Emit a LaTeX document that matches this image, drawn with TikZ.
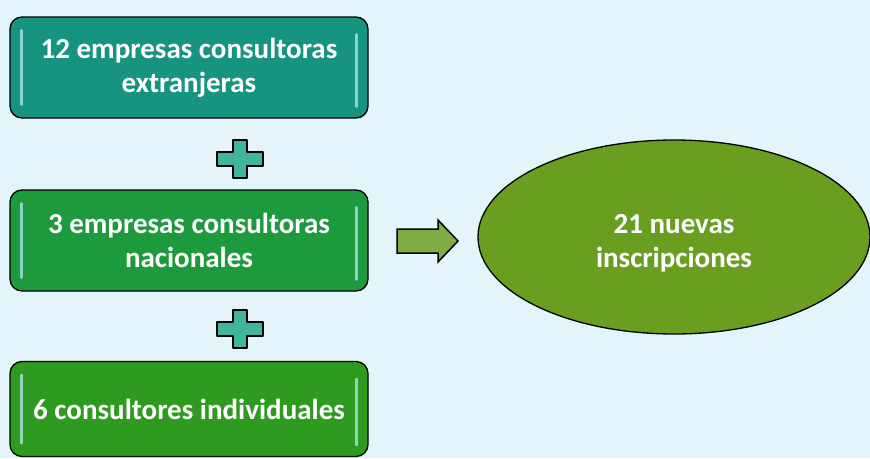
\documentclass[tikz,border=0pt]{standalone}
\usepackage{fontspec}
\setmainfont{Carlito}
\usetikzlibrary{shapes.geometric}
\definecolor{bgc}{HTML}{E3F4FB}
\definecolor{tealbox}{HTML}{179480}
\definecolor{greenbox}{HTML}{1E9A3E}
\definecolor{lgreenbox}{HTML}{2E9A1F}
\definecolor{olivec}{HTML}{6A9E20}
\definecolor{plusc}{HTML}{40B49C}
\tikzset{
  x=1pt, y=-1pt,
  bigtext/.style={text=white, font=\bfseries\fontsize{29}{34}\selectfont, align=center},
  card/.style={draw=black, line width=1.3pt, rounded corners=12pt, minimum width=358pt,
    bigtext, inner sep=0pt},
  glint/.style={white!70!cyan, opacity=0.75, line width=2.5pt, line cap=round},
  plusshape/.style={draw=black, line width=1.5pt, fill=plusc, line join=round},
}
\begin{document}
\begin{tikzpicture}
\fill[bgc] (0,0) rectangle (870,458);
\useasboundingbox (0,0) rectangle (870,458);
% boxes
\node[card, fill=tealbox, minimum height=101pt] (b1) at (189,67.5) {12 empresas consultoras\\extranjeras};
\node[card, fill=greenbox, minimum height=101pt] (b2) at (189,240.5) {3 empresas consultoras\\nacionales};
\node[card, fill=lgreenbox, minimum height=95pt] (b3) at (189,409) {6 consultores individuales};
% glints
\foreach \b in {b1,b2,b3}{
  \draw[glint] ([xshift=12pt,yshift=-14pt]\b.north west) -- ([xshift=12pt,yshift=14pt]\b.south west);
  \draw[glint] ([xshift=-12pt,yshift=-18pt]\b.north east) -- ([xshift=-12pt,yshift=12pt]\b.south east);
}
% plus signs
\coordinate (p1) at (240,159);
\coordinate (p2) at (240,329);
\foreach \p in {p1,p2}{
  \draw[plusshape] ([shift={(-7,-19)}]\p) -- ([shift={(7,-19)}]\p) -- ([shift={(7,-7)}]\p) -- ([shift={(23,-7)}]\p)
    -- ([shift={(23,7)}]\p) -- ([shift={(7,7)}]\p) -- ([shift={(7,19)}]\p) -- ([shift={(-7,19)}]\p)
    -- ([shift={(-7,7)}]\p) -- ([shift={(-23,7)}]\p) -- ([shift={(-23,-7)}]\p) -- ([shift={(-7,-7)}]\p) -- cycle;
}
% ellipse
\node[ellipse, draw=black, line width=1.3pt, fill=olivec, minimum width=392pt, minimum height=194pt] (e) at (674,237) {};
\node[bigtext] (et) at ([yshift=-6pt]e.center) {21 nuevas\\inscripciones};
% arrow
\coordinate (a) at (397,241);
\draw[line width=1.5pt, fill=olivec!85!white, line join=miter]
  ([shift={(0,-12)}]a) -- ([shift={(41,-12)}]a) -- ([shift={(41,-21)}]a) -- ([shift={(61,0)}]a)
  -- ([shift={(41,21)}]a) -- ([shift={(41,12)}]a) -- ([shift={(0,12)}]a) -- cycle;
\end{tikzpicture}
\end{document}
